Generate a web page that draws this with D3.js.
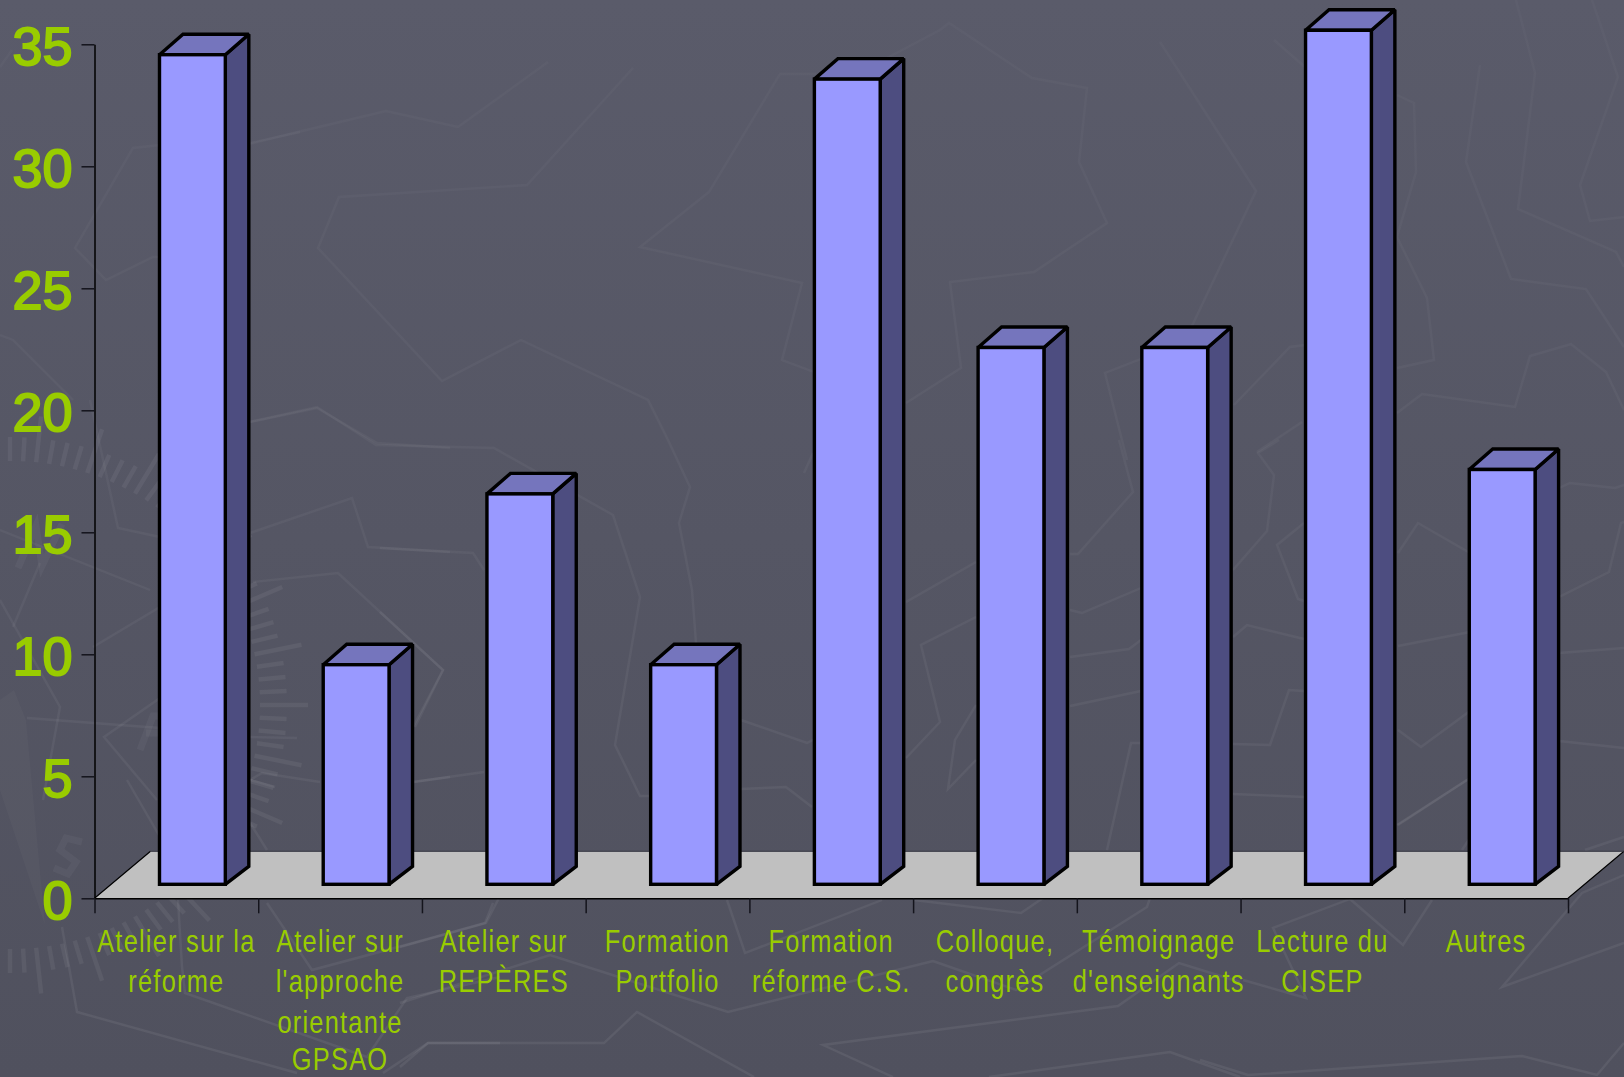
<!DOCTYPE html>
<html><head><meta charset="utf-8">
<script src="https://cdnjs.cloudflare.com/ajax/libs/d3/7.8.5/d3.min.js"></script>
<style>html,body{margin:0;padding:0;background:#50515e;overflow:hidden}svg{display:block}</style>
</head><body><svg id="c" width="1624" height="1077"></svg>
<script>
const categories = [
  ["Atelier sur la","réforme"],
  ["Atelier sur","l'approche","orientante","GPSAO"],
  ["Atelier sur","REPÈRES"],
  ["Formation","Portfolio"],
  ["Formation","réforme C.S."],
  ["Colloque,","congrès"],
  ["Témoignage","d'enseignants"],
  ["Lecture du","CISEP"],
  ["Autres"]
];
const values = [34, 9, 16, 9, 33, 22, 22, 35, 17];
const yTicks = [0, 5, 10, 15, 20, 25, 30, 35];

// faint map-like decoration of the slide background
const backdrop = [
"249,144 302,131 386,111 458,127 548,62","633,68 527,185 339,197 318,248 442,381 521,340 648,400 668,440 690,487 679,523 692,590 696,643",
"249,422 317,407 376,445 494,448 613,515 640,597 615,745 640,796 649,796","380,548 473,553 484,570",
"816,74 780,74 709,192 640,247 802,283 782,360 814,372","887,58 940,30 949,23 1032,78 1087,88 1079,162 1107,223 1034,272 950,282 961,368 906,403",
"1160,42 1256,191 1191,328","1127,460 1105,373 1146,357","1305,345 1290,347 1234,405","1274,40 1305,67",
"1397,95 1414,103 1416,172 1397,237 1427,298 1434,360 1397,368","1480,65 1466,162 1511,279 1586,289 1624,347",
"1516,0 1535,73 1518,209 1616,252 1624,267","1592,0 1618,77 1580,185 1590,221 1624,217","1257,452 1302,422",
"1397,413 1422,394 1515,407 1530,356 1571,344 1606,372 1624,410","906,602 976,562","976,617 921,645 940,722 906,758",
"976,705 955,740 948,789 976,760","741,720 807,743 813,740","741,789 786,787 812,807","804,473 813,453","413,782 484,772",
"380,612 443,670 415,727","1119,440 1133,492 1078,554 1070,554","1070,610 1082,613 1141,588","1070,657 1129,649 1141,640","1070,706 1141,691",
"1107,850 1131,743 1141,743","1233,744 1270,745 1289,690 1304,691","1233,794 1304,797","1233,570 1267,531 1274,475 1258,453 1279,440",
"1233,637 1247,625 1304,639","1304,523 1277,545 1298,599 1304,601","1398,553 1418,523 1470,553","1398,646 1470,632","1398,730 1421,747 1470,711",
"1398,825 1470,778","1559,488 1570,483 1615,488 1624,485","1559,597 1609,572 1621,523 1624,522","1559,653 1624,648","1559,741 1624,748",
"1462,850 1470,838","1585,850 1624,837","1397,825 1467,780","1350,899 1273,928 1306,998 1243,980","1350,899 1403,945 1432,900",
"1624,875 1582,893 1502,987 1624,943","1200,1060 1248,1075 1522,1056 1597,1075 1624,1043","400,947 486,923 499,898","727,900 745,953 882,900",
"914,900 1021,913 1043,898","400,1003 550,955 728,1012 933,961 1016,990 1147,907 1150,898","1240,982 1179,963 1118,1006 823,1045 893,1077",
"989,1077 1170,1052 1240,1077","400,1067 428,1043 604,1043 637,1012 754,1077","62,927 77,1012 297,1073",
"178,900 182,967 185,993 367,1057 407,998 500,977","267,903 312,970 413,943 485,923 493,903","383,1073 428,1043 500,1043",
"127,780 160,837","250,823 267,850","250,780 275,787","0,530 150,590","93,647 160,607","250,533 352,498 368,547 450,552",
"250,422 317,408 377,443 450,448","253,582 338,573 443,670 413,727","27,718 160,728","250,737 297,738","160,698 104,737 157,800",
"90,400 118,528 160,537","0,600 60,707 43,800","40,563 13,627","250,780 262,773 320,782","413,782 450,777",
"160,145 133,148 75,248 106,280 153,257 160,257","0,335 13,340 73,400","0,67 12,50","250,143 300,132"
];
// compass letters, faint, as strokes of the background picture
const compassLetters = ["18,568 36,526 42,566 62,524","140,750 153,716 165,716","146,733 160,733","82,842 66,838 60,850 76,862 68,874 54,868"];

const svg = d3.select("#c");
const defs = svg.append("defs");
const g = defs.append("linearGradient").attr("id","bg").attr("x1",0).attr("x2",0).attr("y1",0).attr("y2",1);
g.append("stop").attr("offset",0).attr("stop-color","#5a5b6a");
g.append("stop").attr("offset",1).attr("stop-color","#50515e");
const lg = defs.append("linearGradient").attr("id","ln").attr("gradientUnits","userSpaceOnUse")
  .attr("x1",0).attr("x2",0).attr("y1",0).attr("y2",1077);
lg.append("stop").attr("offset",0).attr("stop-color","#fff").attr("stop-opacity",0.02);
lg.append("stop").attr("offset",0.4).attr("stop-color","#fff").attr("stop-opacity",0.035);
lg.append("stop").attr("offset",1).attr("stop-color","#fff").attr("stop-opacity",0.065);
svg.append("rect").attr("width",1624).attr("height",1077).attr("fill","url(#bg)");

const deco = svg.append("g").attr("fill","none").attr("stroke","url(#ln)");
deco.selectAll("polyline").data(backdrop).join("polyline")
  .attr("points",d=>d).attr("stroke-width",2.4);
// compass rose
const cx=10, cy=705, ang=d3.range(-180,180,3);
deco.append("g").attr("stroke","#fff").selectAll("line").data(ang).join("line")
  .attr("x1",a=>cx+250*Math.cos(a*Math.PI/180)).attr("y1",a=>cy+244*Math.sin(a*Math.PI/180))
  .attr("x2",(a,i)=>cx+(i%4===0?298:277)*Math.cos(a*Math.PI/180)).attr("y2",(a,i)=>cy+(i%4===0?290:268)*Math.sin(a*Math.PI/180))
  .attr("stroke-width",4.5).attr("stroke-opacity",0.06);
deco.append("g").attr("stroke","#fff").attr("stroke-opacity",0.04).attr("stroke-width",7)
  .selectAll("polyline").data(compassLetters).join("polyline").attr("points",d=>d);
deco.append("polygon").attr("points","0,700 14,690 26,720 45,925 0,790").attr("fill","#fff").attr("fill-opacity",0.025).attr("stroke","none");

// scales
const y = d3.scaleLinear().domain([0,35]).range([898.3,44.3]);
const xEdge = d3.scaleLinear().domain([0,categories.length]).range([94.5,1568]);
const x = d3.scaleBand().domain(d3.range(categories.length)).range([94.5,1568]).paddingInner(0).paddingOuter(0);
const floorDx = 56, floorDy = 47;

// floor
svg.append("polygon")
  .attr("points",[[xEdge(0),y(0)],[xEdge(0)+floorDx,y(0)-floorDy],[xEdge(9)+floorDx,y(0)-floorDy],[xEdge(9),y(0)]].join(" "))
  .attr("fill","#c0c0c0").attr("stroke","none");
svg.append("path").attr("fill","none").attr("stroke","#000").attr("stroke-width",1.2)
  .attr("d",`M${xEdge(0)},${y(0)}L${xEdge(0)+floorDx},${y(0)-floorDy}M${xEdge(9)},${y(0)}L${xEdge(9)+floorDx},${y(0)-floorDy}`);
svg.append("line").attr("x1",xEdge(0)+floorDx).attr("x2",xEdge(9)+floorDx).attr("y1",y(0)-floorDy).attr("y2",y(0)-floorDy)
  .attr("stroke","#33343f").attr("stroke-width",1);

// axes
const yAxis = svg.append("g").attr("transform",`translate(${xEdge(0)},0)`)
  .call(d3.axisLeft(y).tickValues(yTicks).tickSize(13).tickSizeOuter(0).tickPadding(9));
const xAxis = svg.append("g").attr("transform",`translate(0,${y(0)})`)
  .call(d3.axisBottom(xEdge).ticks(9).tickSize(15).tickSizeOuter(0).tickFormat(""));
svg.selectAll(".domain").attr("stroke","#000").attr("stroke-width",1.5);
svg.selectAll(".tick line").attr("stroke","#14141c").attr("stroke-width",1.5);
yAxis.selectAll("text").attr("fill","#99cc00").attr("font-family","'Liberation Sans',Arial,sans-serif")
  .attr("font-size",54).attr("font-weight",400).attr("stroke","#99cc00").attr("stroke-width",1.9).attr("dy","0.365em");

// bars
const frontL = d => x(d) + x.bandwidth()*0.397, barW = x.bandwidth()*0.402;
const baseLift = 14, depthX = 23.5, topDepth = 20.5, footDepth = 18;
const bars = svg.append("g").selectAll("g").data(values).join("g")
  .attr("stroke","#000").attr("stroke-width",3.4).attr("stroke-linejoin","miter").attr("stroke-miterlimit",2);
bars.append("polygon").attr("fill","#4d4d80").attr("points",(v,i)=>{
  const l=frontL(i)+barW, t=y(v)-baseLift, b=y(0)-baseLift;
  return [[l,t],[l+depthX,t-topDepth],[l+depthX,b-footDepth],[l,b]].join(" ");});
bars.append("polygon").attr("fill","#7575bd").attr("points",(v,i)=>{
  const l=frontL(i), t=y(v)-baseLift;
  return [[l,t],[l+depthX,t-topDepth],[l+barW+depthX,t-topDepth],[l+barW,t]].join(" ");});
bars.append("rect").attr("fill","#9999ff").attr("x",(v,i)=>frontL(i)).attr("y",v=>y(v)-baseLift)
  .attr("width",barW).attr("height",v=>y(0)-y(v));

// category labels (condensed)
const labels = svg.append("g").attr("fill","#99cc00").attr("text-anchor","middle")
  .attr("font-family","'Liberation Sans',Arial,sans-serif").attr("font-size",31).attr("letter-spacing",1.5);
labels.selectAll("g").data(categories).join("g").each(function(lines,i){
  d3.select(this).selectAll("text").data(lines).join("text")
    .attr("transform",(d,j)=>`translate(${x(i)+x.bandwidth()/2},${Math.min(951.7+j*40.7,1070)}) scale(0.82,1)`).text(d=>d);
});
</script></body></html>
